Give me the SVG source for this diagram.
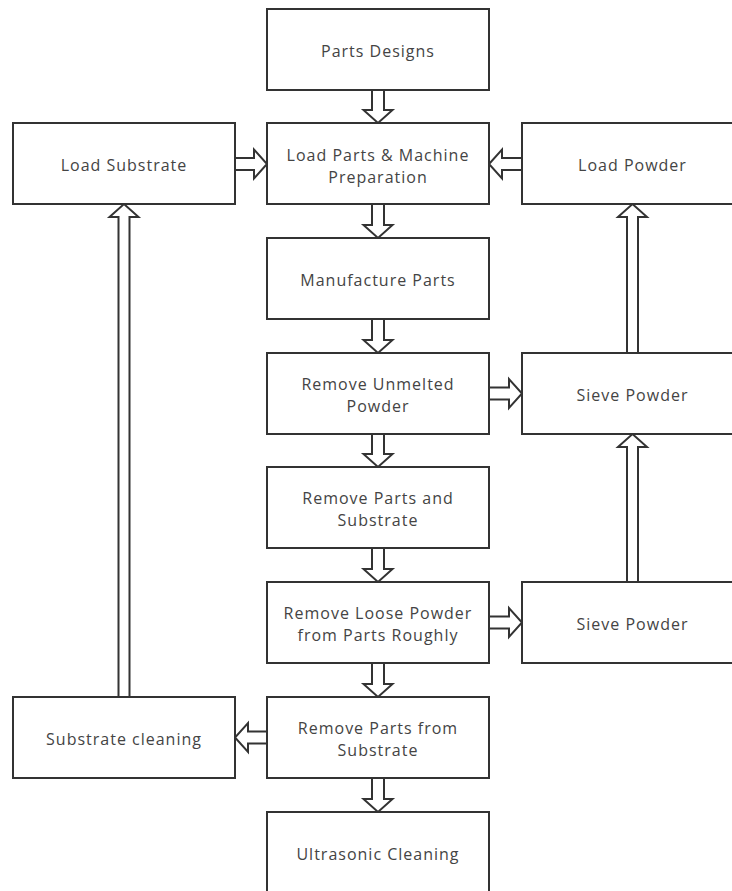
<svg xmlns="http://www.w3.org/2000/svg" width="732" height="891" viewBox="0 0 732 891">
<style>
.box{fill:#fff;stroke:#333;stroke-width:2}
.arr{fill:#fff;stroke:#333;stroke-width:2;stroke-linejoin:miter}
text{font-family:"Open Sans","Noto Sans","Liberation Sans",sans-serif;font-size:16px;letter-spacing:1px;fill:#444;text-anchor:middle}
</style>
<rect width="732" height="891" fill="#fff"/>
<g id="connectors">
<polygon class="arr" points="372,90 384,90 384,110 392.5,110 378,123 363.5,110 372,110"/>
<polygon class="arr" points="372,204 384,204 384,225 392.5,225 378,238 363.5,225 372,225"/>
<polygon class="arr" points="372,319 384,319 384,340 392.5,340 378,353 363.5,340 372,340"/>
<polygon class="arr" points="372,434 384,434 384,454 392.5,454 378,467 363.5,454 372,454"/>
<polygon class="arr" points="372,548 384,548 384,569 392.5,569 378,582 363.5,569 372,569"/>
<polygon class="arr" points="372,663 384,663 384,684 392.5,684 378,697 363.5,684 372,684"/>
<polygon class="arr" points="372,778 384,778 384,799 392.5,799 378,812 363.5,799 372,799"/>
<polygon class="arr" points="489,387.5 509,387.5 509,379 522,393.5 509,408 509,399.5 489,399.5"/>
<polygon class="arr" points="489,616.5 509,616.5 509,608 522,622.5 509,637 509,628.5 489,628.5"/>
<polygon class="arr" points="235,158 254,158 254,149.5 267,164 254,178.5 254,170 235,170"/>
<polygon class="arr" points="522,158 502,158 502,149.5 489,164 502,178.5 502,170 522,170"/>
<polygon class="arr" points="267,731.5 248,731.5 248,723 235,737.5 248,752 248,743.5 267,743.5"/>
<polygon class="arr" points="627,582 627,447 618,447 632.5,434 647,447 638,447 638,582"/>
<polygon class="arr" points="627,353 627,217 618,217 632.5,204 647,217 638,217 638,353"/>
<polygon class="arr" points="118.5,697 118.5,217 109.5,217 124,204 138.5,217 129.5,217 129.5,697"/>
</g>
<g id="parts-designs"><rect class="box" x="267" y="9" width="222" height="81"/><text x="378" y="56.5">Parts Designs</text></g>
<g id="load-parts"><rect class="box" x="267" y="123" width="222" height="81"/><text x="378" y="160.5">Load Parts &amp; Machine</text><text x="378" y="182.5">Preparation</text></g>
<g id="load-substrate"><rect class="box" x="13" y="123" width="222" height="81"/><text x="124" y="170.5">Load Substrate</text></g>
<g id="load-powder"><rect class="box" x="522" y="123" width="222" height="81"/><text x="632.5" y="170.5">Load Powder</text></g>
<g id="manufacture-parts"><rect class="box" x="267" y="238" width="222" height="81"/><text x="378" y="285.5">Manufacture Parts</text></g>
<g id="remove-unmelted"><rect class="box" x="267" y="353" width="222" height="81"/><text x="378" y="390">Remove Unmelted</text><text x="378" y="412">Powder</text></g>
<g id="sieve-powder-1"><rect class="box" x="522" y="353" width="222" height="81"/><text x="632.5" y="400.5">Sieve Powder</text></g>
<g id="remove-parts-substrate"><rect class="box" x="267" y="467" width="222" height="81"/><text x="378" y="504">Remove Parts and</text><text x="378" y="526">Substrate</text></g>
<g id="remove-loose"><rect class="box" x="267" y="582" width="222" height="81"/><text x="378" y="619">Remove Loose Powder</text><text x="378" y="641">from Parts Roughly</text></g>
<g id="sieve-powder-2"><rect class="box" x="522" y="582" width="222" height="81"/><text x="632.5" y="629.5">Sieve Powder</text></g>
<g id="remove-from-substrate"><rect class="box" x="267" y="697" width="222" height="81"/><text x="378" y="734">Remove Parts from</text><text x="378" y="756">Substrate</text></g>
<g id="substrate-cleaning"><rect class="box" x="13" y="697" width="222" height="81"/><text x="124" y="744.5">Substrate cleaning</text></g>
<g id="ultrasonic"><rect class="box" x="267" y="812" width="222" height="81"/><text x="378" y="859.5">Ultrasonic Cleaning</text></g>
</svg>
